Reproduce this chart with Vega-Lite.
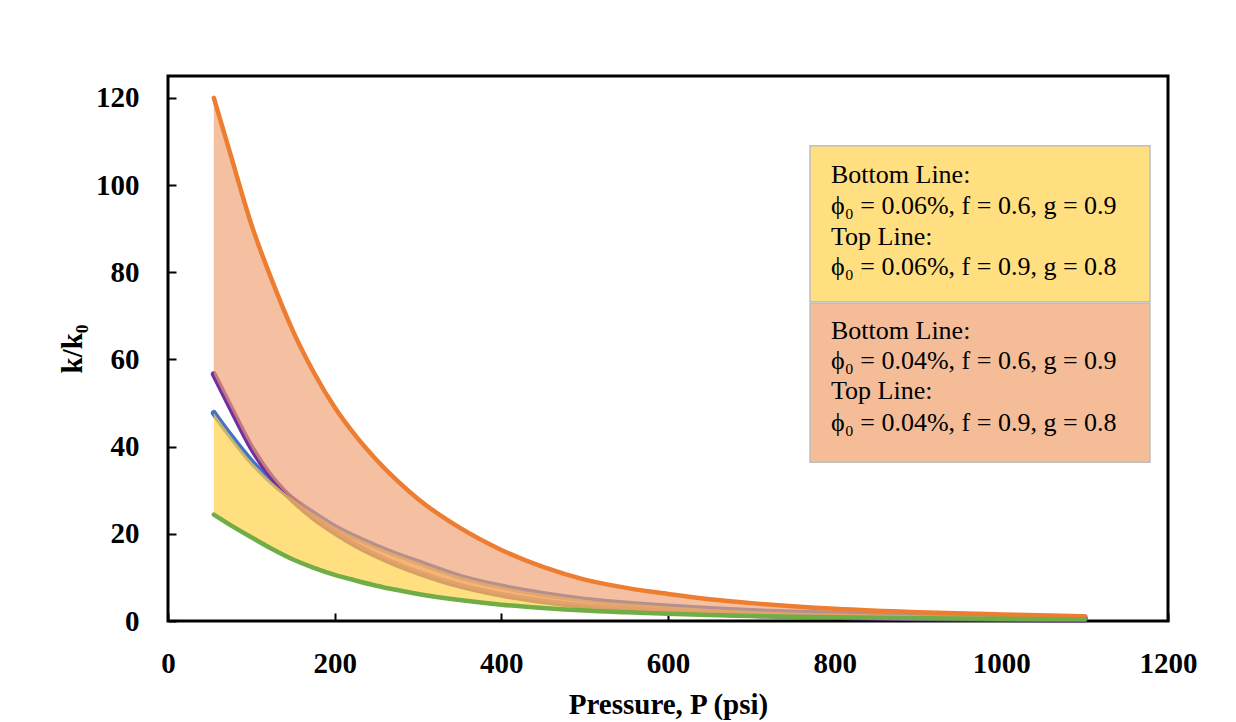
{
  "$schema": "https://vega.github.io/schema/vega-lite/v6.json",
  "width": 1000,
  "height": 545,
  "autosize": {"type": "none"},
  "padding": {"left": 168, "top": 76, "right": 68, "bottom": 101},
  "background": "white",
  "config": {
    "view": {"stroke": "black", "strokeWidth": 3},
    "font": "Liberation Serif",
    "axis": {
      "domain": false,
      "grid": false,
      "tickColor": "black",
      "tickWidth": 2,
      "tickSize": -8,
      "labelFlush": false,
      "labelFont": "Liberation Serif",
      "labelFontWeight": "bold",
      "labelFontSize": 29,
      "labelColor": "black",
      "titleFont": "Liberation Serif",
      "titleFontWeight": "bold",
      "titleFontSize": 29,
      "titleColor": "black"
    }
  },
  "datasets": {
    "curves": [
      {"P": 55, "orange": 120, "purple": 56.6, "blue": 47.7, "green": 24.4},
      {"P": 75, "orange": 107, "purple": 49, "blue": 42.5, "green": 22.0},
      {"P": 100, "orange": 91, "purple": 39.8, "blue": 36.6, "green": 19.2},
      {"P": 125, "orange": 78, "purple": 32.8, "blue": 31.8, "green": 16.5},
      {"P": 150, "orange": 66.5, "purple": 27.7, "blue": 27.9, "green": 14.1},
      {"P": 175, "orange": 57, "purple": 23.6, "blue": 24.6, "green": 12.2},
      {"P": 200, "orange": 49, "purple": 20.3, "blue": 21.6, "green": 10.6},
      {"P": 225, "orange": 42.5, "purple": 17.4, "blue": 19.2, "green": 9.3},
      {"P": 250, "orange": 37, "purple": 15.0, "blue": 17.1, "green": 8.1},
      {"P": 275, "orange": 32.2, "purple": 12.9, "blue": 15.2, "green": 7.1},
      {"P": 300, "orange": 28, "purple": 11.1, "blue": 13.5, "green": 6.2},
      {"P": 350, "orange": 21.4, "purple": 8.1, "blue": 10.2, "green": 4.8},
      {"P": 400, "orange": 16.3, "purple": 6.0, "blue": 7.9, "green": 3.75},
      {"P": 450, "orange": 12.4, "purple": 4.5, "blue": 6.2, "green": 3.0},
      {"P": 500, "orange": 9.5, "purple": 3.4, "blue": 4.9, "green": 2.4},
      {"P": 550, "orange": 7.6, "purple": 2.7, "blue": 4.0, "green": 2.0},
      {"P": 600, "orange": 6.2, "purple": 2.1, "blue": 3.3, "green": 1.65},
      {"P": 650, "orange": 5.0, "purple": 1.7, "blue": 2.75, "green": 1.38},
      {"P": 700, "orange": 4.1, "purple": 1.35, "blue": 2.3, "green": 1.15},
      {"P": 800, "orange": 2.8, "purple": 0.9, "blue": 1.7, "green": 0.85},
      {"P": 900, "orange": 2.0, "purple": 0.62, "blue": 1.3, "green": 0.65},
      {"P": 1000, "orange": 1.5, "purple": 0.45, "blue": 1.05, "green": 0.5},
      {"P": 1100, "orange": 1.1, "purple": 0.33, "blue": 0.85, "green": 0.4}
    ],
    "boxes": [
      {"box": "yellow", "x1": 770.4, "x2": 1178.4, "y1": 109.0, "y2": 73.2},
      {"box": "orange", "x1": 770.4, "x2": 1178.4, "y1": 72.9, "y2": 36.4}
    ],
    "notes": [
      {"px": 795.6, "v": 102.3, "t": "Bottom Line:"},
      {"px": 795.6, "v": 95.2, "t": "ϕ₀ = 0.06%, f = 0.6, g = 0.9"},
      {"px": 795.6, "v": 88.0, "t": "Top Line:"},
      {"px": 795.6, "v": 81.1, "t": "ϕ₀ = 0.06%, f = 0.9, g = 0.8"},
      {"px": 795.6, "v": 66.5, "t": "Bottom Line:"},
      {"px": 795.6, "v": 59.6, "t": "ϕ₀ = 0.04%, f = 0.6, g = 0.9"},
      {"px": 795.6, "v": 52.7, "t": "Top Line:"},
      {"px": 795.6, "v": 45.5, "t": "ϕ₀ = 0.04%, f = 0.9, g = 0.8"}
    ]
  },
  "layer": [
    {
      "data": {"name": "curves"},
      "mark": {"type": "line", "color": "#4472C4", "strokeWidth": 6, "strokeCap": "round", "interpolate": "monotone"},
      "encoding": {
        "x": {"field": "P", "type": "quantitative", "scale": {"domain": [0, 1200], "nice": false}, "axis": {"values": [0, 200, 400, 600, 800, 1000, 1200], "format": "d", "title": "Pressure, P (psi)", "labelPadding": 36, "titlePadding": 12}},
        "y": {"field": "blue", "type": "quantitative", "scale": {"domain": [0, 125], "nice": false}, "axis": {"values": [0, 20, 40, 60, 80, 100, 120], "format": "d", "title": "k/k₀", "labelPadding": 37, "titlePadding": 8}}
      }
    },
    {
      "data": {"name": "curves"},
      "mark": {"type": "line", "color": "#7030A0", "strokeWidth": 6, "strokeCap": "round", "interpolate": "monotone"},
      "encoding": {
        "x": {"field": "P", "type": "quantitative"},
        "y": {"field": "purple", "type": "quantitative"}
      }
    },
    {
      "data": {"name": "curves"},
      "mark": {"type": "area", "color": "#FFD24A", "opacity": 0.7, "interpolate": "monotone"},
      "encoding": {
        "x": {"field": "P", "type": "quantitative"},
        "y": {"field": "green", "type": "quantitative"},
        "y2": {"field": "blue"}
      }
    },
    {
      "data": {"name": "curves"},
      "mark": {"type": "area", "color": "#F0A070", "opacity": 0.66, "interpolate": "monotone"},
      "encoding": {
        "x": {"field": "P", "type": "quantitative"},
        "y": {"field": "purple", "type": "quantitative"},
        "y2": {"field": "orange"}
      }
    },
    {
      "data": {"name": "curves"},
      "mark": {"type": "line", "color": "#ED7D31", "strokeWidth": 4.5, "strokeCap": "round", "interpolate": "monotone"},
      "encoding": {
        "x": {"field": "P", "type": "quantitative"},
        "y": {"field": "orange", "type": "quantitative"}
      }
    },
    {
      "data": {"name": "curves"},
      "mark": {"type": "line", "color": "#70AD47", "strokeWidth": 4.5, "strokeCap": "round", "interpolate": "monotone"},
      "encoding": {
        "x": {"field": "P", "type": "quantitative"},
        "y": {"field": "green", "type": "quantitative"}
      }
    },
    {
      "data": {"name": "boxes"},
      "mark": {"type": "rect", "stroke": "#BFBFBF", "strokeWidth": 1.5},
      "encoding": {
        "x": {"field": "x1", "type": "quantitative"},
        "x2": {"field": "x2"},
        "y": {"field": "y1", "type": "quantitative"},
        "y2": {"field": "y2"},
        "fill": {"field": "box", "type": "nominal", "scale": {"domain": ["yellow", "orange"], "range": ["#FFDF80", "#F5BC98"]}, "legend": null}
      }
    },
    {
      "data": {"name": "notes"},
      "mark": {"type": "text", "align": "left", "baseline": "middle", "font": "Liberation Serif", "fontSize": 26, "color": "black"},
      "encoding": {
        "x": {"field": "px", "type": "quantitative"},
        "y": {"field": "v", "type": "quantitative"},
        "text": {"field": "t"}
      }
    }
  ]
}
